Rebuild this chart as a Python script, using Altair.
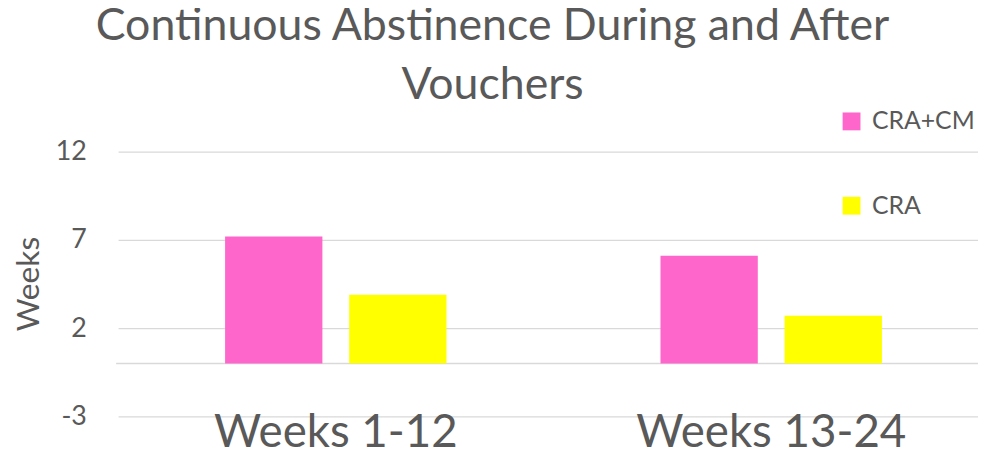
import altair as alt
import pandas as pd

periods = ["Weeks 1-12", "Weeks 13-24"]
groups = ["CRA+CM", "CRA"]
cra_cm = [7.2, 6.1]
cra = [3.9, 2.7]
y_ticks = [-3, 2, 7, 12]
colors = ["#FF66CC", "#FFFF00"]
title_lines = ["Continuous Abstinence During and After", "Vouchers"]

rows = []
for i, p in enumerate(periods):
    rows.append({"period": p, "group": groups[0], "weeks": cra_cm[i]})
    rows.append({"period": p, "group": groups[1], "weeks": cra[i]})
df = pd.DataFrame(rows)
zero_df = pd.DataFrame({"z": [0]})

TXT = "#595959"
GRID = "#d9d9d9"
FONT = "Lato"
W, H = 869, 267

bars = alt.Chart(df).mark_bar().encode(
    x=alt.X(
        "period:N", sort=periods,
        scale=alt.Scale(range=[2, 880], paddingInner=0, paddingOuter=0),
        axis=alt.Axis(title=None, labelAngle=0, domain=False, ticks=False, tickSize=0,
                      labelFont=FONT, labelFontSize=46, labelColor=TXT, labelLimit=600,
                      labelPadding=30, labelBaseline="alphabetic", grid=False),
    ),
    xOffset=alt.XOffset("group:N", sort=groups,
                        scale=alt.Scale(paddingInner=0.216, paddingOuter=0.862)),
    y=alt.Y(
        "weeks:Q",
        scale=alt.Scale(domain=[-3, 12], nice=False, zero=False),
        axis=alt.Axis(values=y_ticks, title="Weeks", domain=False, ticks=False, tickSize=0,
                      grid=True, gridColor=GRID, gridWidth=1.3,
                      labelExpr="toString(datum.value)",
                      labelFont=FONT, labelFontSize=27, labelColor=TXT, labelPadding=30,
                      titleFont=FONT, titleFontSize=32, titleColor=TXT, titleFontWeight="normal",
                      titleX=-78, titleY=133, titleBaseline="alphabetic", titleAngle=270,
                      titleAlign="center"),
    ),
    y2=alt.datum(0),
    color=alt.Color(
        "group:N", sort=groups,
        scale=alt.Scale(domain=groups, range=colors),
        legend=alt.Legend(title=None, orient="none", legendX=729, legendY=-43,
                          symbolType="square", symbolSize=324, symbolStrokeWidth=0,
                          labelFont=FONT, labelFontSize=25, labelColor=TXT,
                          labelOffset=8, rowPadding=59, padding=0),
    ),
)

zero_line = alt.Chart(zero_df).mark_rule(color=GRID, strokeWidth=1.3).encode(y="z:Q")

chart = alt.layer(zero_line, bars).properties(
    width=W, height=H,
    title=alt.TitleParams(title_lines, font=FONT, fontSize=45, color=TXT, fontWeight="normal",
                          lineHeight=60, anchor="middle", dx=-55, dy=9, offset=10),
    autosize=alt.AutoSizeParams(type="none"),
    padding={"left": 109, "top": 143, "right": 0, "bottom": 36},
).configure_view(stroke=None)

chart.save("out.html", embed_options={"renderer": "svg", "actions": False})
